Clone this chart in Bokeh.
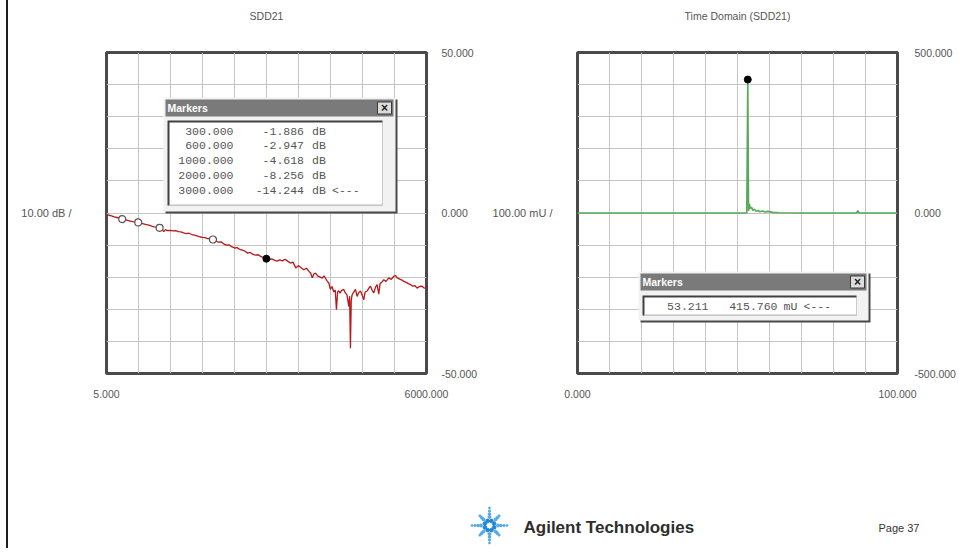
import numpy as np
from bokeh.plotting import figure
from bokeh.layouts import row, column
from bokeh.models import (Range1d, LinearAxis, FixedTicker, NumeralTickFormatter,
                          BoxAnnotation, Label, Div)
from bokeh.embed import file_html
from bokeh.resources import INLINE
from bokeh.core.properties import value

FONT = "Liberation Sans"
MONO = "Liberation Mono"
TXT = "#555555"

# ---------------- data ----------------
left_title = "SDD21"
right_title = "Time Domain (SDD21)"
left_scale_label = "10.00 dB /"
right_scale_label = "100.00 mU /"

sdd21_freq_mhz = [
    5, 50, 100, 150, 200, 250, 300, 350, 400, 450, 500, 550, 600, 650, 700, 750, 800, 850, 900, 950,
    1000, 1040, 1078, 1110, 1150, 1200, 1250, 1300, 1350, 1400, 1450, 1500, 1550, 1600, 1650, 1700,
    1750, 1800, 1850, 1900, 1950, 2000, 2050, 2100, 2150, 2200, 2250, 2300, 2350, 2400, 2450, 2500,
    2550, 2600, 2650, 2700, 2750, 2800, 2850, 2900, 2950, 3000, 3050, 3100, 3150, 3200, 3250, 3300,
    3350, 3400, 3450, 3500, 3550, 3600, 3640, 3700, 3750, 3800, 3830, 3860, 3890, 3920, 3960, 4000,
    4045, 4080, 4110, 4140, 4170, 4200, 4230, 4263, 4290, 4313, 4335, 4356, 4380, 4410, 4450, 4480,
    4510, 4544, 4560, 4575, 4590, 4606, 4635, 4669, 4700, 4730, 4763, 4790, 4825, 4850, 4888, 4920,
    4950, 4980, 5013, 5045, 5075, 5106, 5130, 5160, 5200, 5240, 5294, 5340, 5388, 5420, 5450, 5500,
    5540, 5575, 5620, 5660, 5700, 5740, 5780, 5825, 5870, 5919, 5950, 5981, 6000,
]
sdd21_db = [
    -0.3, -0.7, -0.9, -1.2, -1.4, -1.6, -1.886, -2.1, -2.3, -2.5, -2.7, -2.8, -2.947, -3.2, -3.4, -3.6,
    -3.8, -4.1, -4.3, -4.4, -4.618, -5.0, -5.8, -5.2, -5.5, -5.4, -5.6, -5.5, -5.8, -5.9, -6.2, -6.4,
    -6.3, -6.7, -6.9, -7.1, -7.4, -7.6, -7.7, -8.0, -7.9, -8.256, -8.7, -9.1, -9.0, -9.6, -10.0, -9.9,
    -10.5, -10.9, -10.8, -11.3, -11.6, -11.9, -12.5, -12.3, -12.9, -13.1, -13.0, -13.6, -13.9, -14.244,
    -14.6, -14.3, -14.7, -15.0, -14.6, -14.9, -14.4, -15.0, -15.6, -15.3, -17.1, -16.4, -16.9, -17.7,
    -17.2, -18.2, -18.7, -20.2, -19.0, -18.7, -19.6, -19.9, -20.3, -19.6, -20.4, -21.2, -21.8, -23.8,
    -22.9, -24.6, -24.0, -30.1, -24.6, -24.2, -25.0, -24.1, -23.8, -24.9, -25.5, -29.1, -25.9, -42.1,
    -27.3, -25.5, -24.7, -23.8, -26.0, -24.8, -24.3, -25.4, -27.0, -24.6, -24.3, -23.4, -22.8, -24.0,
    -24.9, -23.1, -22.3, -25.3, -22.0, -21.6, -20.8, -21.3, -20.2, -20.7, -19.7, -19.5, -20.2, -20.6,
    -20.9, -21.3, -21.6, -22.0, -22.3, -22.8, -22.6, -23.4, -22.9, -22.8, -23.3, -23.4, -22.3,
]
marker_freq_mhz = [300, 600, 1000, 2000, 3000]
marker_db = [-1.886, -2.947, -4.618, -8.256, -14.244]

tdr_time_ns = [0, 10, 20, 30, 40, 50, 52.9, 53.211, 53.45, 53.7, 54.0, 54.4, 54.8, 55.3, 55.8,
               56.4, 57.0, 57.8, 58.6, 59.5, 61.0, 63.0, 70, 80, 87.2, 87.6, 88.0, 90, 100]
tdr_mu = [0, 0, 0, 0, 0, 0, 0, 415.76, 6, 28, 14, 18, 8, 12, 5,
          8, 4, 6, 3, 5, 2, 1, 0, 0, 0, 7, 0, 0, 0]
tdr_marker_time = [53.211]
tdr_marker_mu = [415.760]

left_x_range = (5, 6000)
left_y_range = (-50, 50)
right_x_range = (0, 100)
right_y_range = (-500, 500)
left_x_ticks = [5, 6000]
left_y_ticks = [-50, 0, 50]
right_x_ticks = [0, 100]
right_y_ticks = [-500, 0, 500]

# ---------------- layout constants (screen pixels) ----------------
FRAME_W, FRAME_H = 320, 321
TOP = 52
BOTTOM = 35
EDGE = 12          # width taken by the page's left rule (incl. margins)
TITLE_GAP = 31     # distance from title text bottom to frame top


def grid_positions(lo, hi, n=10):
    step = (hi - lo) / n
    return [lo + step * k for k in range(1, n)]


def style_axis(ax, standoff):
    ax.axis_line_color = None
    ax.major_tick_line_color = None
    ax.minor_tick_line_color = None
    ax.major_tick_out = 0
    ax.major_tick_in = 0
    ax.major_label_standoff = standoff
    ax.major_label_text_font = FONT
    ax.major_label_text_font_size = "10.5px"
    ax.major_label_text_color = TXT


def text_axis(ax, text, standoff, size):
    ax.axis_label = text
    ax.axis_label_standoff = standoff
    ax.axis_label_text_font = FONT
    ax.axis_label_text_font_size = size
    ax.axis_label_text_font_style = "normal"
    ax.axis_label_text_color = TXT


def panel(title, scale_label, xr, yr, xticks, yticks, mb_left, mb_right, label_standoff, right_standoff):
    p = figure(frame_width=FRAME_W, frame_height=FRAME_H,
               x_range=Range1d(*xr), y_range=Range1d(*yr),
               x_axis_location=None, y_axis_location=None,
               min_border_left=mb_left, min_border_right=mb_right,
               min_border_top=TOP, min_border_bottom=BOTTOM,
               output_backend="svg", toolbar_location=None,
               outline_line_color="#4a4a4a", outline_line_width=3,
               background_fill_color="white", border_fill_color="white")

    # panel heading, centred over the frame
    ta = LinearAxis(ticker=FixedTicker(ticks=[]))
    style_axis(ta, 0)
    text_axis(ta, title, TITLE_GAP, "10.5px")
    p.add_layout(ta, "above")

    p.xgrid.ticker = FixedTicker(ticks=grid_positions(*xr))
    p.ygrid.ticker = FixedTicker(ticks=grid_positions(*yr))
    for g in (p.xgrid, p.ygrid):
        g.grid_line_color = "#c4c4c4"
        g.grid_line_width = 1

    xa = LinearAxis(ticker=FixedTicker(ticks=xticks), formatter=NumeralTickFormatter(format="0.000"))
    style_axis(xa, 16)
    p.add_layout(xa, "below")

    la = LinearAxis(ticker=FixedTicker(ticks=[]))
    style_axis(la, 0)
    la.axis_label_orientation = "horizontal"
    text_axis(la, scale_label, label_standoff, "11px")
    p.add_layout(la, "left")

    ra = LinearAxis(ticker=FixedTicker(ticks=yticks), formatter=NumeralTickFormatter(format="0.000"))
    style_axis(ra, right_standoff)
    p.add_layout(ra, "right")
    return p


def mapper(frame_left, frame_top, xr, yr):
    def fx(sx):
        return xr[0] + (sx - frame_left) * (xr[1] - xr[0]) / FRAME_W

    def fy(sy):
        return yr[1] - (sy - frame_top) * (yr[1] - yr[0]) / FRAME_H
    return fx, fy


def box(p, fx, fy, l, r, t, b, fill, line=None, lw=1):
    p.add_layout(BoxAnnotation(left=fx(l), right=fx(r), top=fy(t), bottom=fy(b),
                               fill_color=fill, fill_alpha=1.0,
                               line_color=line, line_alpha=1.0, line_width=lw))


def label(p, fx, fy, sx, sy, text, align="left", font=MONO, size="11.5px", color=TXT, style="normal"):
    p.add_layout(Label(x=fx(sx), y=fy(sy), text=text, text_align=align, text_baseline="middle",
                       text_font=font, text_font_size=size, text_color=color, text_font_style=style))


def marker_window(p, fx, fy, l, r, t, b, title_bar_bottom, inner):
    # shadow, body, title bar, close button, sunken panel
    box(p, fx, fy, l + 2, r + 2, t + 2, b + 2, "#4a4a4a")
    box(p, fx, fy, l, r, t, b, "#f2f2f2")
    box(p, fx, fy, l + 2, r - 2, t + 2, title_bar_bottom, "#7a7a7a")
    box(p, fx, fy, r - 18, r - 4, t + 4.5, title_bar_bottom - 2.5, "#dcdcdc", "#3a3a3a", 1)
    label(p, fx, fy, r - 11, (t + title_bar_bottom) / 2 + 0.5, "×", align="center", font=FONT,
          size="12px", color="#222222", style="bold")
    label(p, fx, fy, l + 4, (t + title_bar_bottom) / 2 + 0.5, "Markers", font=FONT, size="10.5px",
          color="white", style="bold")
    il, ir, it, ib = inner
    box(p, fx, fy, il, ir, it, ib, "#404040")
    box(p, fx, fy, il + 2, ir, it + 2, ib, "white")
    box(p, fx, fy, il + 2, ir, ib - 1, ib, "#bdbdbd")


# ---------------- left panel: SDD21 ----------------
p1 = panel(left_title, left_scale_label, left_x_range, left_y_range, left_x_ticks, left_y_ticks,
           106 - EDGE, 60, 35, 15)
p1.line(sdd21_freq_mhz, sdd21_db, line_color="#b81818", line_width=1.3)
p1.scatter(marker_freq_mhz[:-1], marker_db[:-1], size=7, fill_color="white", line_color="#555555",
           line_width=1.2)
p1.scatter(marker_freq_mhz[-1:], marker_db[-1:], size=7, fill_color="black", line_color="black")

fx1, fy1 = mapper(106, TOP, left_x_range, left_y_range)
marker_window(p1, fx1, fy1, 163, 395, 97, 211, 116, (167, 382, 120, 205))
for i, (f, v) in enumerate(zip(marker_freq_mhz, marker_db)):
    yy = 130.5 + 14.8 * i
    label(p1, fx1, fy1, 233, yy, f"{f:.3f}", align="right")
    label(p1, fx1, fy1, 303.5, yy, f"{v:.3f}", align="right")
    label(p1, fx1, fy1, 311.5, yy, "dB")
    if i == len(marker_freq_mhz) - 1:
        label(p1, fx1, fy1, 331.5, yy, "<---")

# ---------------- right panel: time domain ----------------
p2 = panel(right_title, right_scale_label, right_x_range, right_y_range, right_x_ticks, right_y_ticks,
           91, 60, 25, 17)
p2.line(tdr_time_ns, tdr_mu, line_color="#58a858", line_width=1.6)
p2.scatter(tdr_marker_time, tdr_marker_mu, size=7, fill_color="black", line_color="black")

fx2, fy2 = mapper(577, TOP, right_x_range, right_y_range)
marker_window(p2, fx2, fy2, 638, 868, 271, 320, 290, (642, 856, 295, 315))
label(p2, fx2, fy2, 708, 306, f"{tdr_marker_time[0]:.3f}", align="right")
label(p2, fx2, fy2, 777, 306, f"{tdr_marker_mu[0]:.3f}", align="right")
label(p2, fx2, fy2, 783, 306, "mU")
label(p2, fx2, fy2, 803, 306, "<---")

# ---------------- footer ----------------
FOOT_TOP = TOP + FRAME_H + BOTTOM
pb = figure(width=945, height=146, x_range=Range1d(0, 945), y_range=Range1d(146, 0),
            x_axis_location=None, y_axis_location=None, min_border=0,
            output_backend="svg", toolbar_location=None, outline_line_color=None,
            background_fill_color="white", border_fill_color="white")
pb.xgrid.visible = False
pb.ygrid.visible = False

cx, cy = 489 - EDGE, 525 - FOOT_TOP
ring_a = np.deg2rad(np.arange(0, 360, 45) + 22.5)
pb.scatter(cx + 5 * np.cos(ring_a), cy + 5 * np.sin(ring_a), size=3.6, color="#1e88d8")
for k, a in enumerate(np.deg2rad(np.arange(0, 360, 45))):
    radii = [8.5, 11.5, 14.5, 17.5] if k % 2 == 0 else [8.5, 11.0, 13.5]
    sizes = [3.0, 2.6, 2.2, 1.8][:len(radii)]
    pb.scatter(cx + np.array(radii) * np.cos(a), cy + np.array(radii) * np.sin(a),
               size=sizes, color="#4aa3e6", alpha=0.9)
pb.text(x=[523 - EDGE], y=[527 - FOOT_TOP], text=["Agilent Technologies"], text_font=value(FONT),
        text_font_style="bold", text_font_size="17px", text_baseline="middle", text_color="#2e2e2e")
pb.text(x=[878 - EDGE], y=[527 - FOOT_TOP], text=["Page 37"], text_font=value(FONT),
        text_font_size="11px", text_baseline="middle", text_color="#333333")

edge = Div(width=2, height=548, margin=(0, 4, 0, 6), styles={"background-color": "#1e1e1e"})
layout = row(edge, column(row(p1, p2), pb))

open("out.html", "w").write(file_html(layout, INLINE))
